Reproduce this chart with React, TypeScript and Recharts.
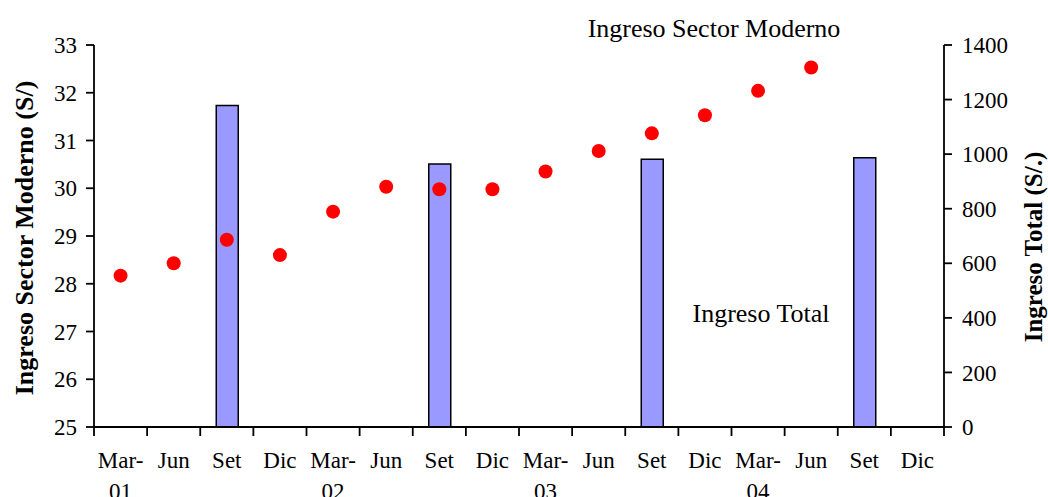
import { ComposedChart, Bar, Line, XAxis, YAxis } from 'recharts'

const periods = [
    'Mar-01', 'Jun-01', 'Set-01', 'Dic-01',
    'Mar-02', 'Jun-02', 'Set-02', 'Dic-02',
    'Mar-03', 'Jun-03', 'Set-03', 'Dic-03',
    'Mar-04', 'Jun-04', 'Set-04', 'Dic-04',
]

const tickLabels = [
    ['Mar-', '01'], ['Jun'], ['Set'], ['Dic'],
    ['Mar-', '02'], ['Jun'], ['Set'], ['Dic'],
    ['Mar-', '03'], ['Jun'], ['Set'], ['Dic'],
    ['Mar-', '04'], ['Jun'], ['Set'], ['Dic'],
]

// Ingreso Sector Moderno (eje izquierdo)
const moderno = [28.17, 28.43, 28.92, 28.6, 29.51, 30.03, 29.98, 29.98, 30.35, 30.78, 31.15, 31.53, 32.04, 32.53, null, null]

// Ingreso Total (eje derecho)
const total = [null, null, 1178, null, null, null, 964, null, null, null, 981, null, null, null, 987, null]

const leftTicks = [25, 26, 27, 28, 29, 30, 31, 32, 33]
const rightTicks = [0, 200, 400, 600, 800, 1000, 1200, 1400]

const data = periods.map((p, i) => ({ period: p, moderno: moderno[i], total: total[i] }))

const font = '"Liberation Serif", "Times New Roman", serif'

// tick marks go between categories, so they are drawn here at +/- half a band
function PeriodTick(props: any) {
    const { x, y, payload } = props
    const half = payload.offset || 26.5
    const lines = tickLabels[payload.index] || [payload.value]
    const isLast = payload.index === periods.length - 1
    return (
        <g>
            <line x1={x - half} x2={x - half} y1={y} y2={y + 9} stroke="#000" strokeWidth={1.8} />
            {isLast && <line x1={x + half} x2={x + half} y1={y} y2={y + 9} stroke="#000" strokeWidth={1.8} />}
            {lines.map((l, i) => (
                <text key={i} x={x} y={y + 41 + i * 31} textAnchor="middle" fontSize={23} fontFamily={font} fill="#000">
                    {l}
                </text>
            ))}
        </g>
    )
}

export default function App() {
    return (
        <div style={{ position: 'absolute', left: 0, top: 0, width: 1048, height: 497, background: '#fff' }}>
            <ComposedChart
                width={1048}
                height={497}
                data={data}
                margin={{ top: 45, right: 0, bottom: 0, left: 0 }}
            >
                <XAxis
                    xAxisId="main"
                    dataKey="period"
                    type="category"
                    tick={<PeriodTick />}
                    tickLine={false}
                    tickSize={0}
                    tickMargin={0}
                    interval={0}
                    axisLine={{ stroke: '#000', strokeWidth: 1.8 }}
                    height={70}
                />
                <YAxis
                    yAxisId="left"
                    orientation="left"
                    domain={[25, 33]}
                    ticks={leftTicks}
                    width={94}
                    tickSize={8}
                    tickMargin={9}
                    axisLine={{ stroke: '#000', strokeWidth: 1.8 }}
                    tickLine={{ stroke: '#000', strokeWidth: 1.8 }}
                    tick={{ fontSize: 23, fontFamily: font, fill: '#000' }}
                />
                <YAxis
                    yAxisId="right"
                    orientation="right"
                    domain={[0, 1400]}
                    ticks={rightTicks}
                    width={104}
                    tickSize={8}
                    tickMargin={10}
                    axisLine={{ stroke: '#000', strokeWidth: 1.8 }}
                    tickLine={{ stroke: '#000', strokeWidth: 1.8 }}
                    tick={{ fontSize: 23, fontFamily: font, fill: '#000' }}
                />
                <Bar
                    xAxisId="main"
                    yAxisId="right"
                    dataKey="total"
                    barSize={22}
                    fill="#9999FF"
                    stroke="#000"
                    strokeWidth={1.5}
                    isAnimationActive={false}
                />
                <Line
                    xAxisId="main"
                    yAxisId="left"
                    dataKey="moderno"
                    stroke="none"
                    dot={{ r: 7, fill: '#FF0000', stroke: 'none' }}
                    activeDot={false}
                    isAnimationActive={false}
                />
            </ComposedChart>
            <svg width={1048} height={497} style={{ position: 'absolute', left: 0, top: 0, pointerEvents: 'none' }}>
                <text x={714} y={37} textAnchor="middle" fontSize={26} fontFamily={font} fill="#000">
                    Ingreso Sector Moderno
                </text>
                <text x={761} y={322} textAnchor="middle" fontSize={26} fontFamily={font} fill="#000">
                    Ingreso Total
                </text>
                <text
                    transform="translate(33, 238) rotate(-90)"
                    textAnchor="middle"
                    fontSize={26}
                    fontWeight="bold"
                    fontFamily={font}
                    fill="#000"
                >
                    Ingreso Sector Moderno (S/)
                </text>
                <text
                    transform="translate(1042, 247) rotate(-90)"
                    textAnchor="middle"
                    fontSize={25}
                    fontWeight="bold"
                    fontFamily={font}
                    fill="#000"
                >
                    Ingreso Total (S/.)
                </text>
            </svg>
        </div>
    )
}
